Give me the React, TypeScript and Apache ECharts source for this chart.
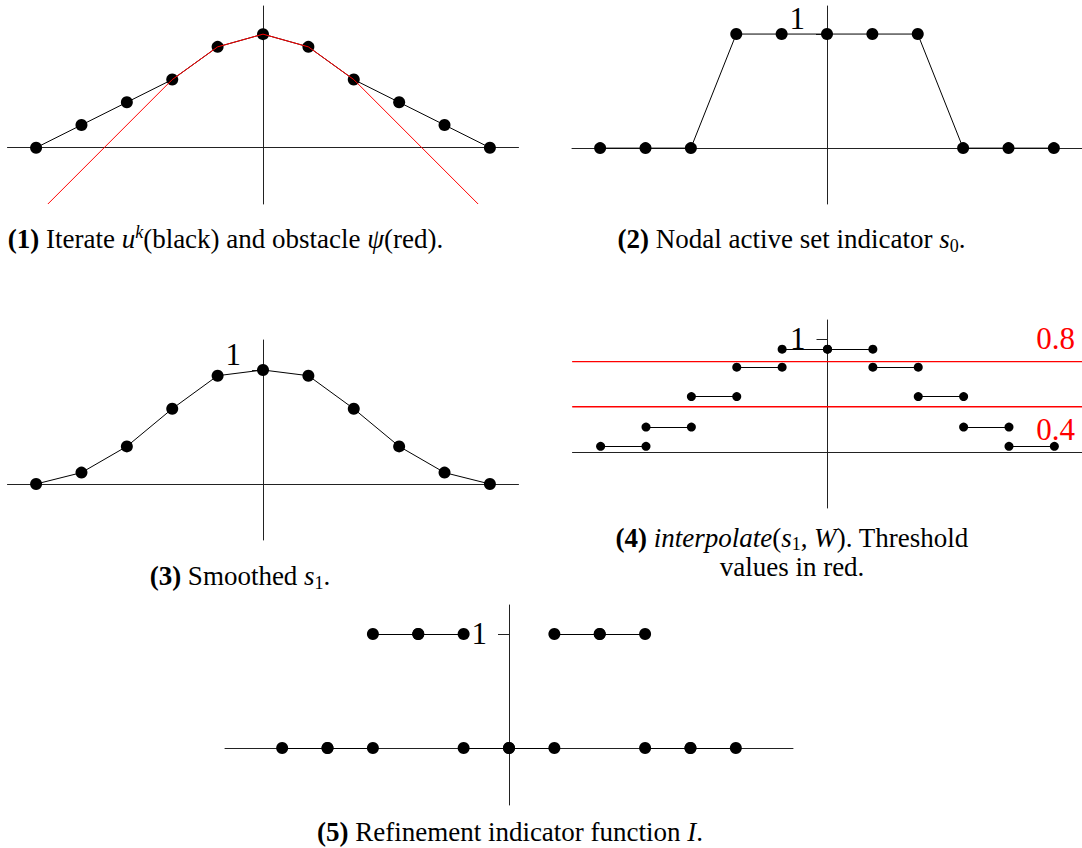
import React, { useEffect, useRef } from "react";
import * as echarts from "echarts";

// Mesh nodes shared by every panel
const nodes = [-5, -4, -3, -2, -1, 0, 1, 2, 3, 4, 5];
// (1) iterate u^k at the nodes
const iterate = [0, 0.5, 1.0, 1.5, 2.22, 2.5, 2.22, 1.5, 1.0, 0.5, 0];
// (1) obstacle psi, breakpoints of the piecewise linear function
const obstacleX = [-4.74, -2, -1, 0, 1, 2, 4.74];
const obstacleY = [-1.24, 1.5, 2.22, 2.5, 2.22, 1.5, -1.24];
// (2) nodal active set indicator s0
const activeSet = [0, 0, 0, 1, 1, 1, 1, 1, 0, 0, 0];
// (3) smoothed indicator s1
const smoothed = [0, 0.1, 0.33, 0.66, 0.95, 1, 0.95, 0.66, 0.33, 0.1, 0];
// (4) s1 interpolated into W, one value per element
const elementValues = [0.05, 0.22, 0.49, 0.75, 0.91, 0.91, 0.75, 0.49, 0.22, 0.05];
const thresholds = [0.8, 0.4];
// (5) refinement indicator I, one value per element
const refineIndicator = [0, 0, 1, 1, 0, 0, 1, 1, 0, 0];
const unitTicks = [1];

const SERIF = '"Liberation Serif", "Times New Roman", serif';
const AXIS_COLOR = "#222";
const RED = "#ff0000";

type Panel = {
  left: number; top: number; width: number; height: number;
  xMin: number; xMax: number; yMin: number; yMax: number;
  unitLabel: null | "bottom" | "middle";
};

const panels: Panel[] = [
  { left: 7.5, top: 6, width: 511, height: 198, xMin: -5.63, xMax: 5.63, yMin: -1.24, yMax: 3.12, unitLabel: null },
  { left: 572, top: 6, width: 510, height: 198, xMin: -5.62, xMax: 5.62, yMin: -0.49, yMax: 1.246, unitLabel: "bottom" },
  { left: 7.5, top: 340, width: 511, height: 200, xMin: -5.63, xMax: 5.63, yMin: -0.491, yMax: 1.263, unitLabel: "bottom" },
  { left: 572.5, top: 320, width: 510, height: 188, xMin: -5.62, xMax: 5.62, yMin: -0.496, yMax: 1.168, unitLabel: "middle" },
  { left: 225, top: 605, width: 568, height: 200, xMin: -6.26, xMax: 6.26, yMin: -0.5, yMax: 1.254, unitLabel: "middle" },
];

const nodal = (ys: number[]) => nodes.map((x, i) => [x, ys[i]]);
const stepSegments = (vals: number[]) =>
  vals.map((v, i) => ({ coords: [[nodes[i], v], [nodes[i + 1], v]] }));
const stepDots = (vals: number[]) =>
  vals.flatMap((v, i) => [[nodes[i], v], [nodes[i + 1], v]]);

function buildOption() {
  const grid = panels.map((p) => ({
    left: p.left, top: p.top, width: p.width, height: p.height,
    containLabel: false, outerBoundsMode: "none",
  }));
  const xAxis = panels.map((p, i) => ({
    type: "value", gridIndex: i, min: p.xMin, max: p.xMax,
    axisLine: { show: true, onZero: true, lineStyle: { color: AXIS_COLOR, width: 1 } },
    axisTick: { show: false }, axisLabel: { show: false }, splitLine: { show: false },
  }));
  // the vertical axis sits at x = 0: shift it in from the grid's left edge
  const yAxis = panels.map((p, i) => ({
    type: "value", gridIndex: i, min: p.yMin, max: p.yMax, position: "left",
    offset: -(p.width * (0 - p.xMin)) / (p.xMax - p.xMin),
    axisLine: { show: true, onZero: false, lineStyle: { color: AXIS_COLOR, width: 1 } },
    axisTick: p.unitLabel
      ? { show: true, customValues: unitTicks, length: 11, lineStyle: { color: AXIS_COLOR, width: 1 } }
      : { show: false },
    axisLabel: p.unitLabel
      ? {
          show: true, customValues: unitTicks, color: "#000", fontSize: 31, fontFamily: SERIF,
          margin: 22, verticalAlign: p.unitLabel,
        }
      : { show: false },
    splitLine: { show: false },
  }));

  const dots = (data: number[][], g: number, size: number) => ({
    type: "scatter", xAxisIndex: g, yAxisIndex: g, data, symbol: "circle", symbolSize: size,
    itemStyle: { color: "#000", opacity: 1 }, silent: true,
  });
  const curve = (data: number[][], g: number, color = "#000") => ({
    type: "line", xAxisIndex: g, yAxisIndex: g, data, symbol: "none",
    lineStyle: { color, width: 1 }, silent: true,
  });
  const steps = (vals: number[], g: number) => ({
    type: "lines", coordinateSystem: "cartesian2d", xAxisIndex: g, yAxisIndex: g,
    data: stepSegments(vals), lineStyle: { color: "#000", width: 1, opacity: 1 }, silent: true,
  });
  // horizontal threshold line across panel 4, labelled at its right end
  const p4 = panels[3];
  const threshold = (t: number, above: boolean) => ({
    type: "line", xAxisIndex: 3, yAxisIndex: 3, silent: true, z: 4,
    symbol: "circle", symbolSize: 1, showSymbol: true,
    itemStyle: { color: RED }, lineStyle: { color: RED, width: 1.4 },
    label: { show: false },
    data: [
      [p4.xMin, t],
      {
        value: [p4.xMax, t],
        label: {
          show: true, position: "left", distance: 7, offset: [0, above ? -23 : 23],
          color: RED, fontSize: 31, fontFamily: SERIF, formatter: String(t),
        },
      },
    ],
  });

  const series: any[] = [
    // (1)
    curve(nodal(iterate), 0),
    curve(obstacleX.map((x, i) => [x, obstacleY[i]]), 0, RED),
    dots(nodal(iterate), 0, 12),
    // (2)
    curve(nodal(activeSet), 1),
    dots(nodal(activeSet), 1, 12),
    // (3)
    curve(nodal(smoothed), 2),
    dots(nodal(smoothed), 2, 12),
    // (4)
    steps(elementValues, 3),
    ...thresholds.map((t, i) => threshold(t, i === 0)),
    { ...dots(stepDots(elementValues), 3, 9), z: 5 },
    // (5)
    steps(refineIndicator, 4),
    dots(stepDots(refineIndicator), 4, 12),
  ];

  const base = { fontSize: 27, fontFamily: SERIF, lineHeight: 32 };
  const makeRich = (lh: number) => ({
    b: { ...base, lineHeight: lh, fontWeight: "bold" },
    i: { ...base, lineHeight: lh, fontStyle: "italic" },
    sup: { fontSize: 18, fontFamily: SERIF, fontStyle: "italic", lineHeight: 20, verticalAlign: "top" },
    sub: { fontSize: 18, fontFamily: SERIF, lineHeight: lh - 8, verticalAlign: "bottom" },
  });
  const caption = (text: string, x: number, y: number, lh = 32) => ({
    type: "text", x, y, silent: true,
    style: {
      text, rich: makeRich(lh), fill: "#000", ...base, lineHeight: lh,
      align: "center", verticalAlign: "middle", textAlign: "center", textVerticalAlign: "middle",
    },
  });

  const graphic = [
    caption("{b|(1)} Iterate {i|u}{sup|k}(black) and obstacle {i|ψ}(red).", 225.5, 239),
    caption("{b|(2)} Nodal active set indicator {i|s}{sub|0}.", 791.5, 239),
    caption("{b|(3)} Smoothed {i|s}{sub|1}.", 240, 576),
    caption("{b|(4)} {i|interpolate}({i|s}{sub|1}, {i|W}). Threshold\nvalues in red.", 792, 552.5, 29),
    caption("{b|(5)} Refinement indicator function {i|I}.", 510, 832),
  ];

  return { animation: false, backgroundColor: "#fff", grid, xAxis, yAxis, series, graphic };
}

export default function App() {
  const ref = useRef<HTMLDivElement>(null);
  useEffect(() => {
    document.body.style.margin = "0";
    if (!ref.current) return;
    const chart = echarts.init(ref.current, undefined, { renderer: "svg" });
    chart.setOption(buildOption() as any);
    return () => chart.dispose();
  }, []);
  return <div ref={ref} style={{ width: 1082, height: 848 }} />;
}
